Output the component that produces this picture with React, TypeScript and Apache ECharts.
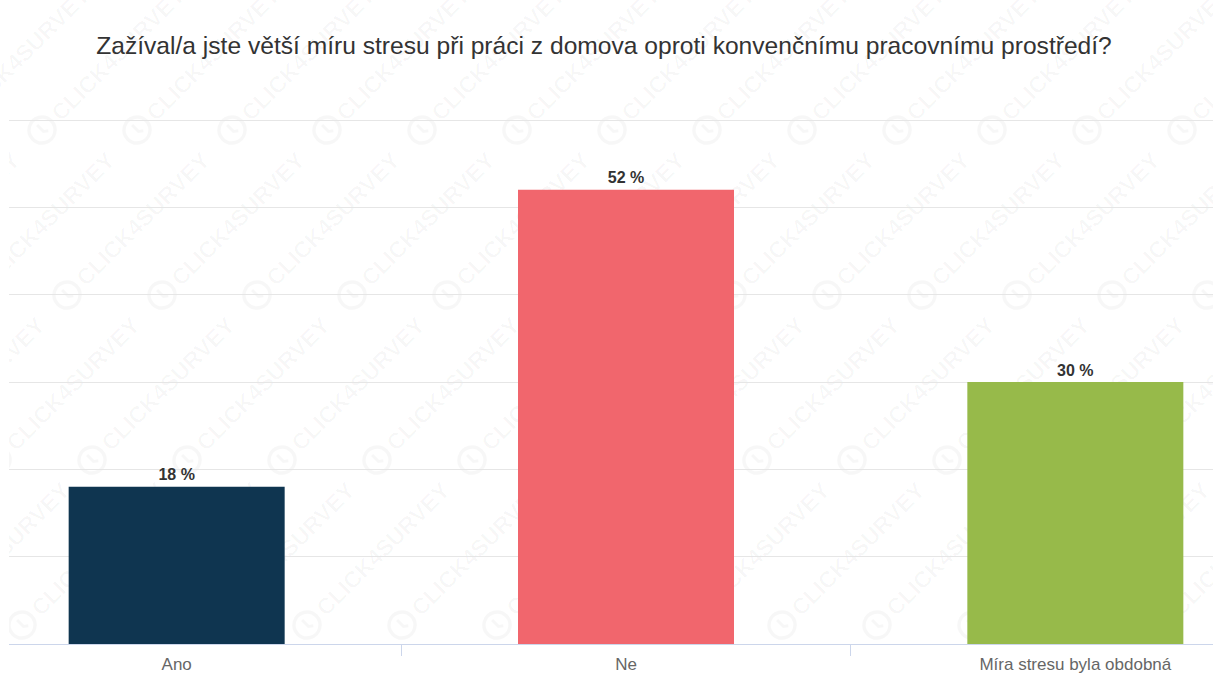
import React, { useEffect, useRef } from "react";
import * as echarts from "echarts";

const TITLE = "Zažíval/a jste větší míru stresu při práci z domova oproti konvenčnímu pracovnímu prostředí?";
const categories = ["Ano", "Ne", "Míra stresu byla obdobná"];
const values = [18, 52, 30];
const barColors = ["#0f3550", "#f1666d", "#97ba4a"];
const WATERMARK = "CLICK4SURVEY";

const OFFSET = 48; // chart canvas starts 48px left of the page
const WM = "rgba(0,0,0,0.03)";

function buildWatermark() {
  const items: any[] = [];
  for (let k = -25; k <= 30; k++) {
    for (let m = -2; m <= 12; m++) {
      const x = k * 95 + m * 165;
      const y = 790 - m * 165;
      if (x < OFFSET - 230 || x > 1213 + OFFSET + 10 || y < 0 || y > 760) continue;
      items.push({
        type: "group",
        x,
        y,
        rotation: Math.PI / 4,
        silent: true,
        z: -10,
        children: [
          {
            type: "circle",
            shape: { cx: 0, cy: 0, r: 13 },
            style: { fill: "none", stroke: WM, lineWidth: 3.5 },
            z: -10,
          },
          {
            type: "polyline",
            shape: { points: [[0, -7], [0, 2], [4, 5]] },
            style: { fill: "none", stroke: WM, lineWidth: 3 },
            z: -10,
          },
          {
            type: "text",
            x: 19,
            y: 0,
            style: {
              text: WATERMARK,
              fontSize: 23,
              fontWeight: "bold",
              fontFamily: "Liberation Sans, Arial, sans-serif",
              fill: WM,
              verticalAlign: "middle",
            },
            z: -10,
          },
        ],
      });
    }
  }
  return items;
}

export default function App() {
  const ref = useRef<HTMLDivElement>(null);
  useEffect(() => {
    document.body.style.margin = "0";
    const chart = echarts.init(ref.current!, undefined, { renderer: "svg" });
    chart.setOption({
      animation: false,
      backgroundColor: "#ffffff",
      grid: { left: 0, right: 0, top: 120, bottom: 28, containLabel: false },
      xAxis: {
        type: "category",
        data: categories,
        axisLine: { lineStyle: { color: "#ccd6eb", width: 1 } },
        axisTick: { show: true, length: 12, lineStyle: { color: "#ccd6eb" } },
        axisLabel: {
          fontFamily: "Liberation Sans, Arial, sans-serif",
          fontSize: 17,
          color: "#666666",
          margin: 12,
        },
      },
      yAxis: {
        type: "value",
        min: 0,
        max: 60,
        interval: 10,
        axisLabel: { show: false },
        axisLine: { show: false },
        axisTick: { show: false },
        splitLine: { lineStyle: { color: "#e6e6e6", width: 1 } },
      },
      series: [
        {
          type: "bar",
          barWidth: 216,
          z: 5,
          data: values.map((v, i) => ({ value: v, itemStyle: { color: barColors[i] } })),
          label: {
            show: true,
            position: "top",
            distance: 4,
            formatter: "{c} %",
            fontFamily: "Liberation Sans, Arial, sans-serif",
            fontSize: 16,
            fontWeight: "bold",
            color: "#333333",
          },
        },
      ],
      graphic: [
        ...buildWatermark(),
        {
          type: "rect",
          shape: { x: OFFSET, y: 100, width: 9, height: 560 },
          style: { fill: "#ffffff" },
          silent: true,
          z: 100,
        },
        {
          type: "text",
          x: 604 + OFFSET,
          y: 45,
          z: 100,
          style: {
            text: TITLE,
            fontFamily: "Liberation Sans, Arial, sans-serif",
            fontSize: 24.6,
            fill: "#333333",
            align: "center",
            verticalAlign: "middle",
          },
        },
      ],
    });
    return () => chart.dispose();
  }, []);
  return (
    <div style={{ position: "relative", width: 1213, height: 673, overflow: "hidden" }}>
      <div ref={ref} style={{ position: "absolute", left: -OFFSET, top: 0, width: 1347.5, height: 673 }} />
    </div>
  );
}
